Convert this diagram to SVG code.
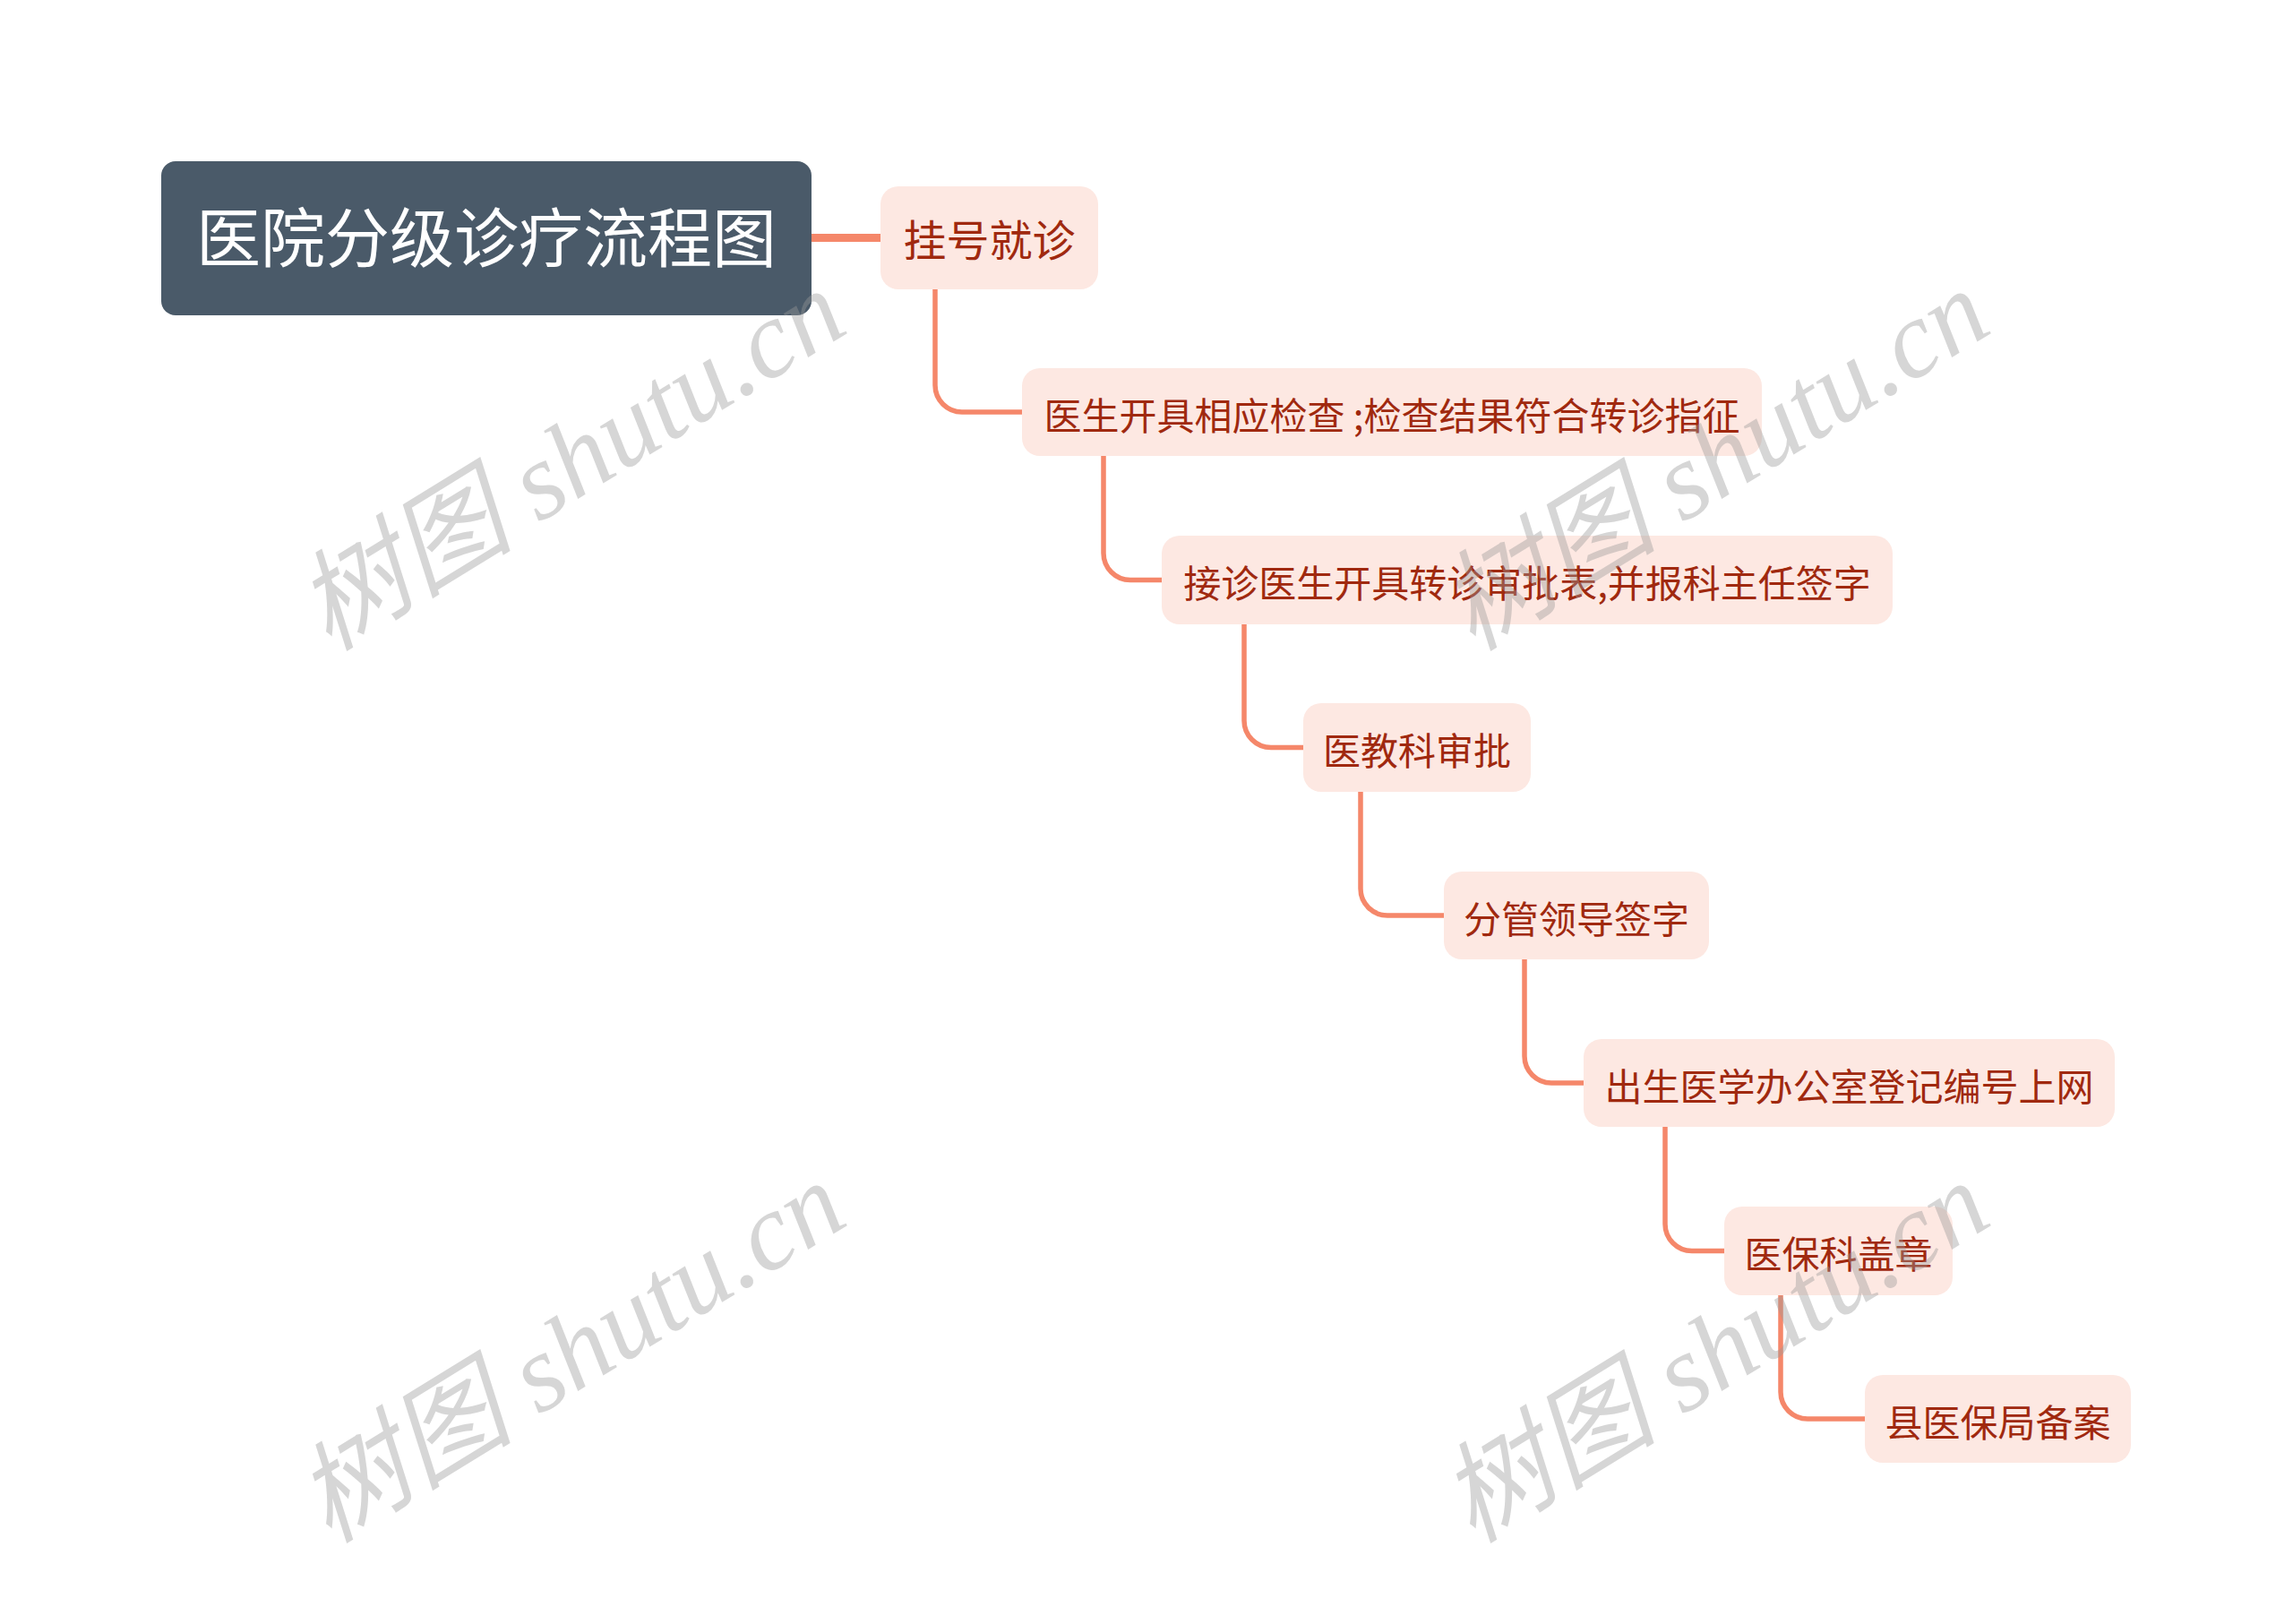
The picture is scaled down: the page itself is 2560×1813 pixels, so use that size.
<svg xmlns="http://www.w3.org/2000/svg" width="2560" height="1813" viewBox="0 0 2560 1813">
<style>
.bg{fill:#ffffff}
.root{fill:#4a5a69}
.roottxt{fill:#ffffff;font-family:"Noto Sans CJK SC","Noto Sans",sans-serif;font-size:72px;text-anchor:middle}
.node{fill:#fde8e2}
.txt{fill:#a0290f;font-family:"Noto Sans CJK SC","Noto Sans",sans-serif;font-size:42px;text-anchor:middle}
.txt1{font-size:48px}
.conn{fill:none;stroke:#f5876a;stroke-width:5.5;stroke-linecap:butt}
.conn0{stroke-width:9}
.wm{fill:#999999;fill-opacity:0.4;font-family:"Liberation Serif","Noto Sans CJK SC",serif;font-style:italic;font-size:122px;text-anchor:middle}
</style>
<rect class="bg" x="0" y="0" width="2560" height="1813"/>
<g id="connectors">
<path class="conn conn0" d="M906 265.5 H983"/>
<path class="conn" d="M1044 323 V430 A30 30 0 0 0 1074 460 H1141"/>
<path class="conn" d="M1232 509 V617.5 A30 30 0 0 0 1262 647.5 H1297"/>
<path class="conn" d="M1389 697 V804.5 A30 30 0 0 0 1419 834.5 H1455"/>
<path class="conn" d="M1519 884 V992 A30 30 0 0 0 1549 1022 H1612"/>
<path class="conn" d="M1702 1071 V1179 A30 30 0 0 0 1732 1209 H1768"/>
<path class="conn" d="M1859 1258 V1366.5 A30 30 0 0 0 1889 1396.5 H1925"/>
<path class="conn" d="M1988 1446 V1554 A30 30 0 0 0 2018 1584 H2082"/>
</g>
<g id="root">
<rect class="root" x="180" y="180" width="726" height="172" rx="16"/>
<text class="roottxt" x="543" y="292">医院分级诊疗流程图</text>
</g>
<g id="n1">
<rect class="node" x="983" y="208" width="243" height="115" rx="20"/>
<text class="txt txt1" x="1104.5" y="285.5">挂号就诊</text>
</g>
<g id="n2">
<rect class="node" x="1141" y="411" width="826" height="98" rx="20"/>
<text class="txt" x="1554" y="479.5">医生开具相应检查 ;检查结果符合转诊指征</text>
</g>
<g id="n3">
<rect class="node" x="1297" y="598" width="816" height="99" rx="20"/>
<text class="txt" x="1705" y="667">接诊医生开具转诊审批表,并报科主任签字</text>
</g>
<g id="n4">
<rect class="node" x="1455" y="785" width="254" height="99" rx="20"/>
<text class="txt" x="1582" y="854">医教科审批</text>
</g>
<g id="n5">
<rect class="node" x="1612" y="973" width="296" height="98" rx="20"/>
<text class="txt" x="1760" y="1041.5">分管领导签字</text>
</g>
<g id="n6">
<rect class="node" x="1768" y="1160" width="593" height="98" rx="20"/>
<text class="txt" x="2064.5" y="1228.5">出生医学办公室登记编号上网</text>
</g>
<g id="n7">
<rect class="node" x="1925" y="1347" width="255" height="99" rx="20"/>
<text class="txt" x="2052.5" y="1416">医保科盖章</text>
</g>
<g id="n8">
<rect class="node" x="2082" y="1535" width="297" height="98" rx="20"/>
<text class="txt" x="2230.5" y="1603.5">县医保局备案</text>
</g>
<g id="watermarks">
<text class="wm" transform="translate(640,518) rotate(-31.6)" x="0" y="36">树图 shutu.cn</text>
<text class="wm" transform="translate(1917,518) rotate(-31.6)" x="0" y="36">树图 shutu.cn</text>
<text class="wm" transform="translate(640,1514) rotate(-31.6)" x="0" y="36">树图 shutu.cn</text>
<text class="wm" transform="translate(1917,1514) rotate(-31.6)" x="0" y="36">树图 shutu.cn</text>
</g>
</svg>
